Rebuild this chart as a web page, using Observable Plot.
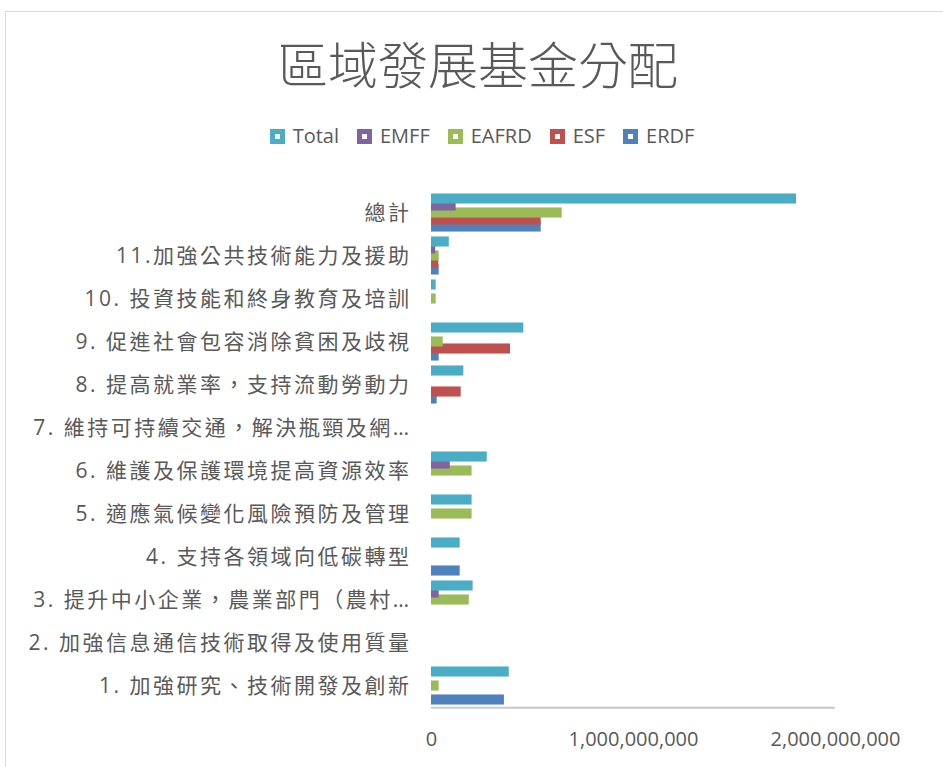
<!DOCTYPE html>
<html>
<head>
<meta charset="utf-8">
<script src="https://cdn.jsdelivr.net/npm/d3@7"></script>
<script src="https://cdn.jsdelivr.net/npm/@observablehq/plot@0.6"></script>
<style>
  html, body { margin: 0; padding: 0; background: #fff; overflow: hidden; }
  #wrap { position: relative; width: 943px; height: 767px; overflow: hidden;
          font-family: 'Open Sans', 'Noto Sans CJK TC', sans-serif; color: #595959; }
  #border { position: absolute; left: 5px; top: 11px; width: 1000px; height: 900px;
            border: 1.5px solid #d9d9d9; box-sizing: border-box; }
  #title { position: absolute; left: 0; top: 34px; width: 956px; text-align: center;
           font-family: 'Noto Sans CJK TC', sans-serif; font-weight: 300; font-size: 50px;
           line-height: 56px; color: #595959; }
  #legend { position: absolute; left: 0; top: 123px; width: 964px; display: flex;
            justify-content: center; font-size: 20px; line-height: 26px; }
  .item { display: flex; align-items: center; margin: 0 9px; }
  .sw { flex: none; width: 15px; height: 15px; box-sizing: border-box; border: 5px solid; background: #fff; margin-right: 8px; }
  #plot { position: absolute; left: 0; top: 160px; }
  g[aria-label="y-axis tick label"] text { letter-spacing: 2.5px; }
</style>
</head>
<body>
<div id="wrap">
  <div id="border"></div>
  <div id="title"></div>
  <div id="legend"></div>
  <div id="plot"></div>
</div>
<script>
const title = "區域發展基金分配";
// categories, top to bottom
const categories = [
  "總計",
  "11.加強公共技術能力及援助",
  "10. 投資技能和終身教育及培訓",
  "9. 促進社會包容消除貧困及歧視",
  "8. 提高就業率，支持流動勞動力",
  "7. 維持可持續交通，解決瓶頸及網…",
  "6. 維護及保護環境提高資源效率",
  "5. 適應氣候變化風險預防及管理",
  "4. 支持各領域向低碳轉型",
  "3. 提升中小企業，農業部門（農村…",
  "2. 加強信息通信技術取得及使用質量",
  "1. 加強研究、技術開發及創新"
];
const seriesNames = ["Total", "EMFF", "EAFRD", "ESF", "ERDF"];
const seriesColors = ["#4BACC6", "#8064A2", "#9BBB59", "#C0504D", "#4F81BD"];
const totalValues = [1807e6, 88e6, 23e6, 457e6, 160e6, 0, 276e6, 201e6, 142e6, 206e6, 0, 385e6];
const emffValues  = [122e6, 21e6, 0, 0, 0, 0, 93e6, 0, 0, 38e6, 0, 0];
const eafrdValues = [647e6, 38e6, 23e6, 58e6, 0, 0, 201e6, 201e6, 0, 187e6, 0, 38e6];
const esfValues   = [543e6, 36e6, 0, 391e6, 147e6, 0, 0, 0, 0, 0, 0, 0];
const erdfValues  = [543e6, 38e6, 0, 38e6, 28e6, 0, 0, 0, 142e6, 0, 0, 361e6];
const xTicks = [0, 1e9, 2e9];

const valuesBySeries = {Total: totalValues, EMFF: emffValues, EAFRD: eafrdValues, ESF: esfValues, ERDF: erdfValues};
const rows = [];
for (const s of seriesNames) {
  valuesBySeries[s].forEach((v, i) => rows.push({category: categories[i], series: s, value: v}));
}

document.getElementById("title").textContent = title;
const legend = document.getElementById("legend");
seriesNames.forEach((s, i) => {
  const it = document.createElement("div");
  it.className = "item";
  const sw = document.createElement("div");
  sw.className = "sw";
  sw.style.borderColor = seriesColors[i];
  const tx = document.createElement("span");
  tx.textContent = s;
  it.appendChild(sw); it.appendChild(tx);
  legend.appendChild(it);
});

const W = 943, H = 607, mT = 28, mB = 58;
const band = (H - mT - mB) / categories.length;
const half = band / 2, barHalf = 5.25, step = 7;
// draw order: ERDF first, Total last (on top)
const order = ["ERDF", "ESF", "EAFRD", "EMFF", "Total"];
const offsets = {Total: -2, EMFF: -1, EAFRD: 0, ESF: 1, ERDF: 2};
const barMarks = order.map(s => {
  const o = offsets[s] * step;
  return Plot.barX(rows.filter(d => d.series === s && d.value > 0), {
    x: "value", y: "category",
    fill: seriesColors[seriesNames.indexOf(s)],
    insetTop: half - barHalf + o,
    insetBottom: half - barHalf - o
  });
});

const chart = Plot.plot({
  width: W, height: H,
  marginTop: mT, marginBottom: mB, marginLeft: 431, marginRight: 108,
  style: {fontFamily: "'Open Sans', 'Noto Sans CJK TC', sans-serif", fontSize: "20px", color: "#595959", background: "transparent", overflow: "visible"},
  x: {domain: [0, 2e9], axis: null},
  y: {domain: categories, padding: 0, axis: null},
  marks: [
    Plot.tickY([categories[categories.length - 1]], {y: d => d, stroke: "#c8c8c8", strokeWidth: 2, dy: half}),
    ...barMarks,
    Plot.axisX({ticks: xTicks, tickSize: 0, tickPadding: 22, tickFormat: d3.format(","), label: null, fontSize: 20}),
    Plot.axisY({tickSize: 0, tickPadding: 20, label: null, fontSize: 21})
  ]
});
document.getElementById("plot").appendChild(chart);
</script>
</body>
</html>
